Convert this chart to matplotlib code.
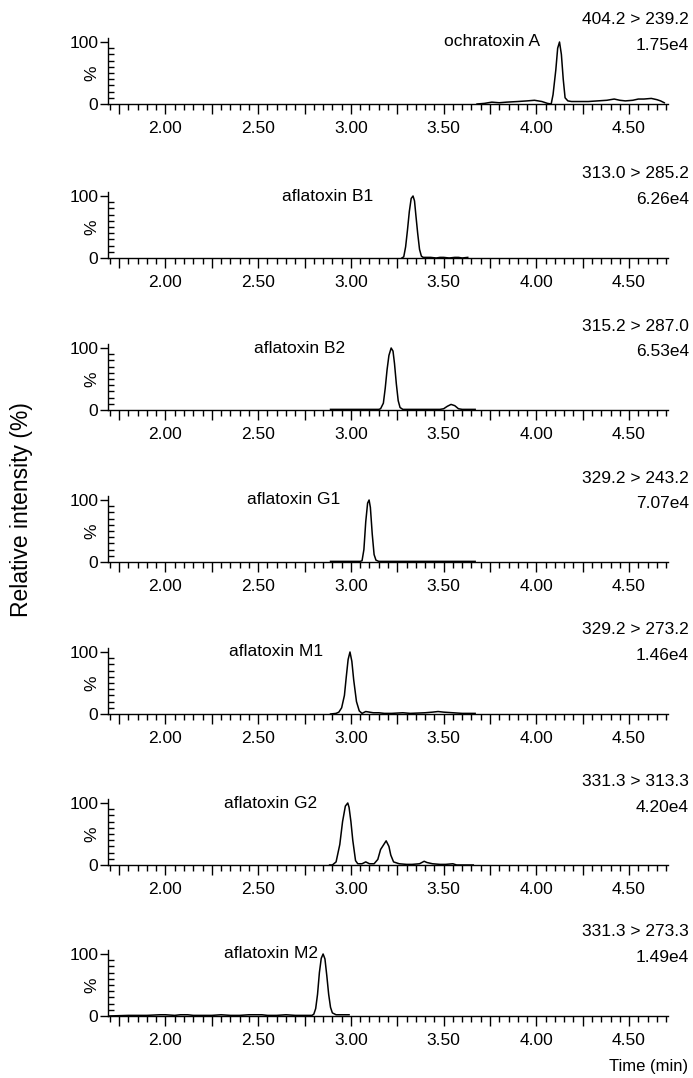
import numpy as np
import matplotlib
matplotlib.use('Agg')
import matplotlib.pyplot as plt
from matplotlib.ticker import MultipleLocator, FuncFormatter

plt.rcParams['font.family'] = ['Liberation Sans', 'DejaVu Sans']

# compound names, MRM transitions and base peak intensity
names = ['ochratoxin A', 'aflatoxin B1', 'aflatoxin B2', 'aflatoxin G1',
         'aflatoxin M1', 'aflatoxin G2', 'aflatoxin M2']
transitions = ['404.2 > 239.2', '313.0 > 285.2', '315.2 > 287.0', '329.2 > 243.2',
               '329.2 > 273.2', '331.3 > 313.3', '331.3 > 273.3']
scales = ['1.75e4', '6.26e4', '6.53e4', '7.07e4', '1.46e4', '4.20e4', '1.49e4']
# right end of the compound name, in minutes
name_x = [4.02, 3.12, 2.97, 2.94, 2.85, 2.82, 2.82]

# chromatogram traces (time in min, relative intensity in %)
ota_t = [3.68, 3.72, 3.76, 3.80, 3.84, 3.90, 3.95, 3.99, 4.03, 4.06, 4.08, 4.09, 4.105, 4.115,
         4.125, 4.135, 4.145, 4.155, 4.17, 4.19, 4.23, 4.28, 4.33, 4.38, 4.42, 4.45, 4.48,
         4.52, 4.55, 4.58, 4.62, 4.65, 4.67, 4.69]
ota_i = [0, 1, 3, 2, 3, 4, 5, 6, 4, 1, 0, 15, 55, 90, 100, 80, 40, 10, 5, 4, 4, 4, 5, 6, 8, 6, 5,
         6, 8, 8, 9, 7, 5, 2]

b1_t = [3.275, 3.285, 3.295, 3.305, 3.315, 3.325, 3.335, 3.343, 3.35, 3.36, 3.37, 3.38, 3.39,
        3.40, 3.43, 3.46, 3.48, 3.50, 3.53, 3.56, 3.58, 3.60, 3.63]
b1_i = [0, 2, 18, 45, 75, 96, 100, 92, 70, 40, 14, 3, 1, 1, 1, 0, 1, 1, 0, 1, 1, 0, 1]

b2_t = [2.89, 2.95, 3.00, 3.05, 3.10, 3.15, 3.16, 3.175, 3.185, 3.195, 3.205, 3.217, 3.227, 3.235,
        3.245, 3.255, 3.265, 3.28, 3.30, 3.35, 3.40, 3.45, 3.48, 3.50, 3.52, 3.54, 3.56, 3.58,
        3.60, 3.63, 3.67]
b2_i = [1, 1, 1, 1, 1, 1, 2, 11, 35, 65, 88, 100, 95, 75, 42, 15, 4, 1, 1, 1, 1, 1, 1, 2, 6, 9,
        7, 2, 1, 1, 1]

g1_t = [2.89, 2.95, 3.00, 3.05, 3.06, 3.07, 3.08, 3.09, 3.098, 3.105, 3.115, 3.125, 3.135,
        3.15, 3.20, 3.30, 3.40, 3.50, 3.60, 3.67]
g1_i = [1, 1, 1, 1, 2, 20, 65, 95, 100, 88, 45, 12, 3, 1, 1, 1, 1, 1, 1, 1]

m1_t = [2.89, 2.92, 2.935, 2.95, 2.965, 2.975, 2.985, 2.995, 3.005, 3.015, 3.03, 3.045, 3.06,
        3.08, 3.10, 3.12, 3.15, 3.18, 3.22, 3.28, 3.32, 3.40, 3.44, 3.47, 3.50, 3.55, 3.60, 3.67]
m1_i = [0, 1, 3, 10, 30, 60, 88, 100, 85, 55, 20, 5, 1, 4, 3, 2, 2, 1, 1, 2, 1, 2, 3, 4, 3, 2,
        1, 1]

g2_t = [2.885, 2.90, 2.92, 2.94, 2.955, 2.97, 2.983, 2.99, 3.00, 3.01, 3.025, 3.037, 3.06, 3.08,
        3.10, 3.125, 3.145, 3.16, 3.175, 3.19, 3.205, 3.215, 3.23, 3.26, 3.30, 3.33, 3.37, 3.395,
        3.41, 3.44, 3.48, 3.51, 3.55, 3.57, 3.60, 3.66]
g2_i = [0, 0, 5, 33, 70, 95, 100, 93, 70, 40, 7, 2, 2, 5, 2, 2, 9, 25, 32, 39, 30, 16, 5, 2, 1,
        1, 2, 6, 4, 2, 1, 1, 2, 0, 0, 0]

m2_t = [1.69, 1.80, 1.90, 1.97, 2.00, 2.05, 2.08, 2.12, 2.15, 2.20, 2.25, 2.30, 2.35, 2.40,
        2.45, 2.48, 2.52, 2.55, 2.60, 2.65, 2.70, 2.75, 2.79, 2.80, 2.81, 2.82, 2.83, 2.84, 2.85,
        2.86, 2.87, 2.88, 2.89, 2.90, 2.92, 2.95, 2.99]
m2_i = [0, 1, 1, 2, 2, 1, 2, 2, 1, 1, 1, 2, 1, 1, 2, 2, 2, 1, 1, 2, 1, 1, 1, 3, 12, 35, 70, 93,
        100, 92, 65, 35, 14, 5, 2, 2, 2]

traces = [(ota_t, ota_i), (b1_t, b1_i), (b2_t, b2_i), (g1_t, g1_i),
          (m1_t, m1_i), (g2_t, g2_i), (m2_t, m2_i)]

W, H = 693, 1078
fig = plt.figure(figsize=(W / 100, H / 100), dpi=100)

base_px = [104, 258, 410, 562, 714, 865, 1016]   # pixel row of the 0 % line
left_px, right_px = 108, 668
ymax = 106
h_px = 62 * ymax / 100.0

fs = 12.5


def label_half(v, pos):
    if abs(v * 2 - round(v * 2)) < 1e-6:
        return '%.2f' % v
    return ''


for k in range(7):
    b = 1 - base_px[k] / H
    ax = fig.add_axes([left_px / W, b, (right_px - left_px) / W, h_px / H])
    t, y = traces[k]
    ax.plot(t, y, color='black', lw=1.1)
    ax.set_xlim(1.69, 4.71)
    ax.set_ylim(0, ymax)
    for s in ['top', 'right']:
        ax.spines[s].set_visible(False)
    ax.spines['left'].set_linewidth(1.0)
    ax.spines['bottom'].set_linewidth(1.0)

    ax.xaxis.set_major_locator(MultipleLocator(0.25))
    ax.xaxis.set_minor_locator(MultipleLocator(0.05))
    ax.xaxis.set_major_formatter(FuncFormatter(label_half))
    ax.tick_params(axis='x', which='major', direction='out', length=7, width=1.0,
                   labelsize=fs, pad=5)
    ax.tick_params(axis='x', which='minor', direction='out', length=4, width=1.0)

    ax.set_yticks([0, 100])
    ax.set_yticklabels(['0', '100'])
    ax.set_yticks(np.arange(10, 100, 10), minor=True)
    ax.tick_params(axis='y', which='major', direction='out', length=6, width=1.0,
                   labelsize=fs, pad=1)
    ax.tick_params(axis='y', which='minor', direction='in', length=4, width=1.0)

    ax.text(-0.028, 50, '%', transform=ax.get_yaxis_transform(), rotation=90,
            ha='center', va='center', fontsize=fs)
    ax.text(name_x[k], 100, names[k], ha='right', va='center', fontsize=fs)
    fig.text(689 / W, 1 - (base_px[k] - 84) / H, transitions[k], ha='right', va='center',
             fontsize=fs)
    fig.text(689 / W, 1 - (base_px[k] - 58) / H, scales[k], ha='right', va='center',
             fontsize=fs)

fig.text(22 / W, 1 - 510 / H, 'Relative intensity (%)', rotation=90, ha='center',
         va='center', fontsize=16.5)
fig.text(688 / W, 1 - 1066 / H, 'Time (min)', ha='right', va='center', fontsize=12)

fig.savefig('out.png', dpi=100)
